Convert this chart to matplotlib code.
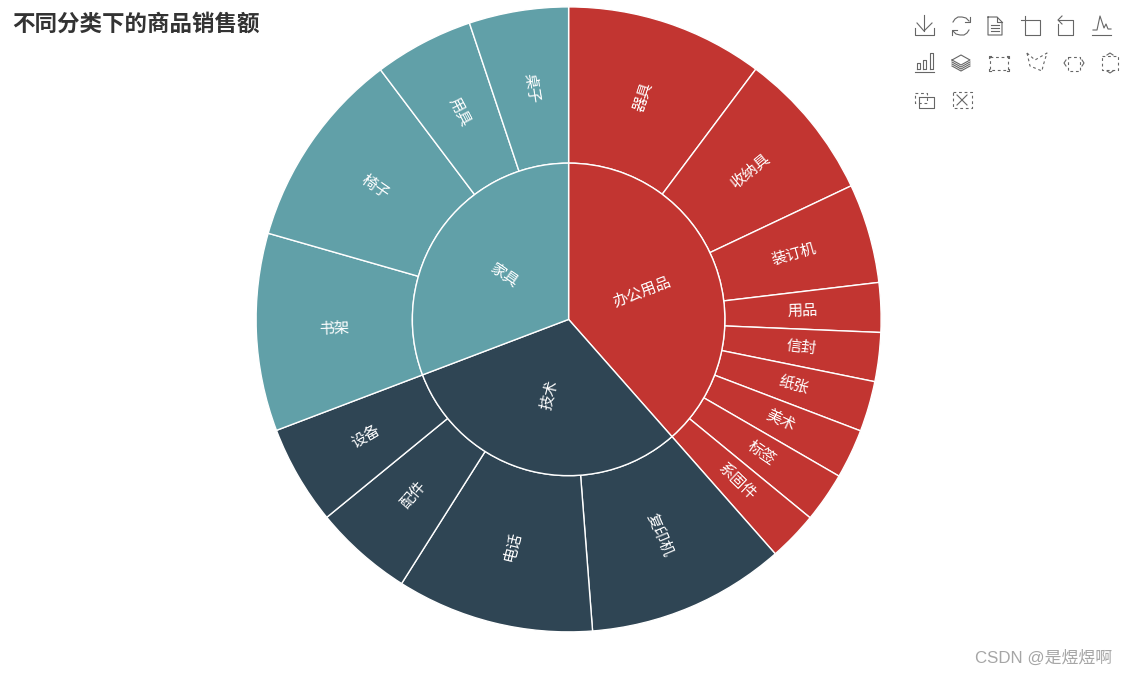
import math
import matplotlib
matplotlib.use('Agg')
import matplotlib.pyplot as plt

plt.rcParams['font.family'] = ['Noto Sans CJK SC', 'DejaVu Sans']

categories = ['办公用品', '技术', '家具']
category_colors = ['#c23531', '#2f4554', '#61a0a8']

office_names = ['器具', '收纳具', '装订机', '用品', '信封', '纸张', '美术', '标签', '系固件']
office_values = [36.8, 27.9, 18.5, 9.2, 9.1, 9.4, 9.2, 9.3, 9.2]

tech_names = ['复印机', '电话', '配件', '设备']
tech_values = [37.0, 36.7, 18.4, 18.5]

furniture_names = ['书架', '椅子', '用具', '桌子']
furniture_values = [36.8, 37.0, 18.5, 18.5]

title = '不同分类下的商品销售额'
watermark = 'CSDN @是煜煜啊'

W, H = 1127, 676
CX, CY, R = 568.6, 319.4, 312.5


def radial_labels(ax, wedges, names, radius):
	for wedge, name in zip(wedges, names):
		mid = (wedge.theta1 + wedge.theta2) / 2
		angle = (mid + 180) % 360 - 180
		rotation = angle if -90 < angle <= 90 else angle - 180
		x = radius * math.cos(math.radians(mid))
		y = radius * math.sin(math.radians(mid))
		ax.text(x, y, name, color='white', fontsize=11, ha='center', va='center',
			rotation=rotation, rotation_mode='anchor')


fig = plt.figure(figsize=(W / 100, H / 100), dpi=100, facecolor='white')

# sunburst
ax = fig.add_axes([(CX - R) / W, (H - CY - R) / H, 2 * R / W, 2 * R / H])

outer_names = office_names + tech_names + furniture_names
outer_values = office_values + tech_values + furniture_values
outer_colors = ([category_colors[0]] * len(office_values)
	+ [category_colors[1]] * len(tech_values)
	+ [category_colors[2]] * len(furniture_values))
inner_values = [sum(office_values), sum(tech_values), sum(furniture_values)]

edge = dict(edgecolor='white', linewidth=1.0)
outer, _ = ax.pie(outer_values, colors=outer_colors, radius=1, startangle=90, counterclock=False,
	wedgeprops=dict(width=0.5, **edge))
inner, _ = ax.pie(inner_values, colors=category_colors, radius=0.5, startangle=90, counterclock=False,
	wedgeprops=edge)
ax.set_xlim(-1, 1)
ax.set_ylim(-1, 1)
ax.axis('off')

radial_labels(ax, outer, outer_names, 0.75)
radial_labels(ax, inner, categories, 0.25)

# overlay in pixel coordinates for the title, toolbox and watermark
top = fig.add_axes([0, 0, 1, 1], facecolor='none')
top.set_xlim(0, W)
top.set_ylim(H, 0)
top.axis('off')

top.text(12, 24, title, fontsize=16.2, fontweight='bold', color='#333333', ha='left', va='center')
top.text(1112, 658, watermark, fontsize=12.2, color='#a6a6a6', ha='right', va='center',
	family=['Liberation Sans', 'Noto Sans CJK SC'])

# toolbox icons
solid = [
	[(924, 15), (924, 31)], [(917, 23), (924, 31), (932, 23)], [(915, 28), (915, 35), (934, 35), (934, 28)],
	[(988, 17), (988, 35), (1002, 35), (1002, 22), (997, 17), (988, 17)], [(997, 17), (997, 22), (1002, 22)],
	[(991, 25), (999, 25)], [(991, 28), (999, 28)], [(991, 31), (999, 31)],
	[(1021, 20), (1040, 20), (1040, 35), (1025, 35), (1025, 16)],
	[(1062, 16), (1058, 20), (1062, 24)], [(1058, 20), (1073, 20), (1073, 35), (1058, 35), (1058, 24)],
	[(1092, 35), (1111, 35)], [(1093, 30), (1097, 30), (1100, 16), (1104, 28), (1106, 24), (1108, 29), (1111, 29)],
	[(915, 72), (934, 72)],
	[(917, 69), (917, 63), (920, 63), (920, 69), (917, 69)],
	[(923, 69), (923, 60), (926, 60), (926, 69), (923, 69)],
	[(930, 69), (930, 53), (933, 53), (933, 69), (930, 69)],
	[(952, 60), (961, 55), (970, 60), (961, 65), (952, 60)],
	[(952, 62), (961, 67), (970, 62)], [(952, 64), (961, 69), (970, 64)], [(952, 66), (961, 71), (970, 66)],
	[(919, 97), (934, 97), (934, 108), (919, 108), (919, 97)],
	[(957, 95), (967, 105)], [(967, 95), (957, 105)],
	[(1066, 60), (1064, 63), (1066, 66)], [(1082, 60), (1084, 63), (1082, 66)],
	[(1107, 55), (1110, 53), (1113, 55)], [(1107, 71), (1110, 73), (1113, 71)],
	[(989, 58), (989, 56), (991, 56)], [(1007, 56), (1009, 56), (1009, 58)],
	[(989, 69), (989, 71), (991, 71)], [(1007, 71), (1009, 71), (1009, 69)],
]
dashed = [
	[(990, 57), (1008, 57), (1008, 70), (990, 70), (990, 57)],
	[(1027, 53), (1035, 60), (1047, 53), (1043, 66), (1042, 71), (1030, 66), (1027, 53)],
	[(1068, 57), (1080, 57), (1080, 71), (1068, 71), (1068, 57)],
	[(1102, 56), (1118, 56), (1118, 70), (1102, 70), (1102, 56)],
	[(915, 93), (927, 93), (927, 103), (915, 103), (915, 93)],
	[(953, 92), (972, 92), (972, 108), (953, 108), (953, 92)],
]
# refresh: two arcs with arrow heads
solid += [
	[(953, 22), (955, 19), (958, 17), (962, 17), (966, 18), (969, 21)],
	[(969, 30), (967, 33), (964, 35), (960, 35), (956, 34), (953, 31)],
	[(970, 17), (970, 22), (965, 22)], [(952, 35), (952, 30), (957, 30)],
]
for pts in solid:
	top.plot(*zip(*pts), color='#666666', lw=0.8)
for pts in dashed:
	top.plot(*zip(*pts), color='#666666', lw=0.8, dashes=(2.5, 2.5))

fig.savefig('out.png', dpi=100, facecolor='white')
